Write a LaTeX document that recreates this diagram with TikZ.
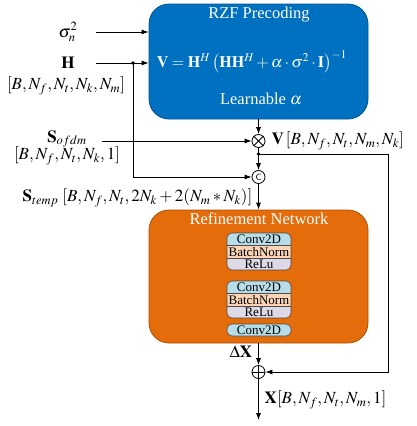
\documentclass[tikz,border=0pt]{standalone}
\usepackage{mathptmx}
\usepackage[no-math]{fontspec}
\setmainfont{Liberation Serif}
\usetikzlibrary{arrows.meta}
\definecolor{rzfblue}{RGB}{0,112,192}
\definecolor{reforange}{RGB}{228,108,10}
\definecolor{convcol}{RGB}{183,222,232}
\definecolor{bncol}{RGB}{252,213,181}
\definecolor{relucol}{RGB}{221,217,230}

\begin{document}
\begin{tikzpicture}[x=1pt, y=-1pt, line width=0.8pt, >={Latex[length=7pt,width=5pt]},
  font=\fontsize{17}{20}\selectfont,
  opnode/.style={circle,draw,fill=white,inner sep=0pt,minimum size=13pt},
  bigbox/.style={rounded corners=20pt,minimum width=219pt,draw=#1!75!black,fill=#1},
  layertext/.style={font=\fontsize{13}{13}\selectfont,inner sep=0pt}]
\useasboundingbox (0,0) rectangle (416,426);

% RZF precoding block
\node[bigbox=rzfblue, minimum height=115pt] (rzf) at (258.5,61.5) {};
\node[text=white,font=\fontsize{16.5}{20}\selectfont] (rzftitle) at (259,15) {RZF Precoding};
\node[text=white,font=\fontsize{16}{20}\selectfont] (rzfeq) at (252,62) {$\mathbf{V}=\mathbf{H}^{H}\left(\mathbf{H}\mathbf{H}^{H}+\alpha\cdot\sigma^{2}\cdot\mathbf{I}\right)^{-1}$};
\node[text=white,font=\fontsize{16.5}{20}\selectfont] (alpha) at (261,99) {Learnable $\alpha$};

% Inputs
\node (sigma) at (68,32) {$\sigma_n^2$};
\node (H) at (68,63) {$\mathbf{H}$};
\node (Hdim) at (66,86) {$[B,N_f,N_t,N_k,N_m]$};
\coordinate (sigin) at (96,32);
\coordinate (Hin) at (96,63);
\coordinate (Hsplit) at (133,63);
\draw[->] (sigin) -- (sigin -| rzf.west);
\draw[->] (Hin) -- (Hin -| rzf.west);
\fill (Hsplit) circle (1.8);

% Multiplication with S_ofdm
\node[opnode] (mult) at (258.5,141) {};
\draw (mult.north east) -- (mult.south west) (mult.north west) -- (mult.south east);
\draw[->] (rzf.south) -- (mult);
\node (Sofdm) at (67,139) {$\mathbf{S}_{ofdm}$};
\node (Sdim) at (67,156) {$[B,N_f,N_t,N_k,1]$};
\coordinate (Sin) at (102,141);
\draw[->] (Sin) -- (mult);
\node[anchor=west] (Vdim) at (268,141) {$\mathbf{V}\,[B,N_f,N_t,N_m,N_k]$};

% Concatenation
\coordinate (Vsplit) at (258.5,154);
\fill (Vsplit) circle (1.8);
\node[opnode,font=\sffamily\fontsize{9}{9}\selectfont] (cat) at (258.5,177) {C};
\draw (mult) -- (Vsplit);
\draw[->] (Vsplit) -- (cat);
\draw[->] (Hsplit) |- (cat);
\node[anchor=east] (Stemp) at (256,198) {$\mathbf{S}_{temp}\;[B,N_f,N_t,2N_k+2(N_m*N_k)]$};

% Refinement network
\node[bigbox=reforange, minimum height=133pt] (ref) at (258.5,276.5) {};
\node[text=white,font=\fontsize{16.5}{20}\selectfont] (reftitle) at (259,219) {Refinement Network};
\draw[->] (cat) -- (ref.north);

\foreach \y/\n in {233/1, 281/2} {
  \begin{scope}
    \clip[rounded corners=5pt] (227,\y) rectangle (291,\y+37);
    \fill[convcol] (227,\y) rectangle (291,\y+12);
    \fill[bncol] (227,\y+12) rectangle (291,\y+25);
    \fill[relucol] (227,\y+25) rectangle (291,\y+37);
  \end{scope}
  \draw[line width=0.6pt,black!70] (227,\y+12) -- (291,\y+12) (227,\y+25) -- (291,\y+25);
  \draw[line width=0.6pt,black!70,rounded corners=5pt] (227,\y) rectangle (291,\y+37);
  \node[layertext] (conv\n) at (259,\y+6.3) {Conv2D};
  \node[layertext] (bn\n) at (259,\y+18.8) {BatchNorm};
  \node[layertext] (relu\n) at (259,\y+31.3) {ReLu};
}
\node[layertext,draw=black!70,line width=0.6pt,fill=convcol,rounded corners=5pt,
  minimum width=64pt,minimum height=12pt] (conv3) at (259,330) {Conv2D};

% Residual addition
\node[opnode] (add) at (258.5,372) {};
\draw (add.north) -- (add.south) (add.west) -- (add.east);
\draw[->] (ref.south) -- (add);
\node[anchor=east] (dX) at (256,352) {$\Delta\mathbf{X}$};
\coordinate (Vturn) at (388,154);
\draw[->] (Vsplit) -- (Vturn) |- (add);
\coordinate (out) at (258.5,420);
\draw[->] (add) -- (out);
\node[anchor=west] (Xdim) at (261,400) {$\mathbf{X}[B,N_f,N_t,N_m,1]$};

\end{tikzpicture}
\end{document}
